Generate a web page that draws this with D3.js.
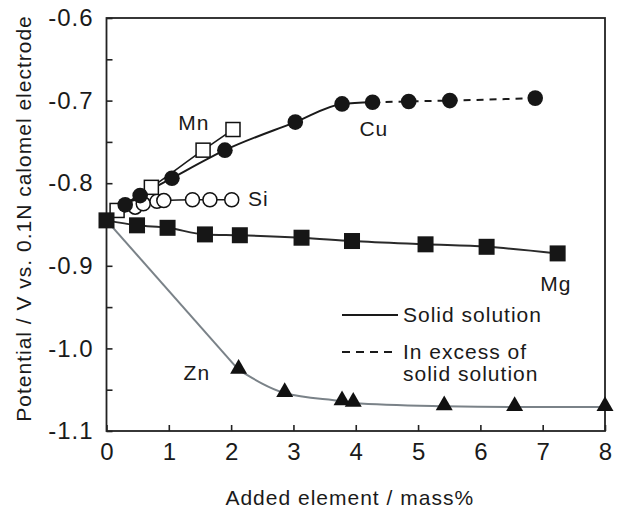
<!DOCTYPE html>
<html>
<head>
<meta charset="utf-8">
<script src="https://cdn.jsdelivr.net/npm/d3@7"></script>
<style>
  html, body { margin: 0; padding: 0; background: #fff; }
  svg text { font-family: "Liberation Sans", Arial, Helvetica, sans-serif; fill: #1a1a1a; letter-spacing: 1px; }
</style>
</head>
<body>
<svg id="chart" width="620" height="510"></svg>
<script>
// Potential of aluminium binary alloys vs. amount of added element
const xTicks = [0, 1, 2, 3, 4, 5, 6, 7, 8];
const yTicks = [-1.1, -1.05, -1.0, -0.95, -0.9, -0.85, -0.8, -0.75, -0.7, -0.65, -0.6];
const yTickLabels = ["-1.1", "", "-1.0", "", "-0.9", "", "-0.8", "", "-0.7", "", "-0.6"];

// Cu: solid-solution range, then beyond the solubility limit
const cuSolidX = [0, 0.30, 0.54, 1.05, 1.90, 3.03, 3.78, 4.27];
const cuSolidY = [-0.845, -0.826, -0.815, -0.794, -0.760, -0.726, -0.704, -0.702];
const cuExcessX = [4.27, 4.85, 5.51, 6.88];
const cuExcessY = [-0.702, -0.701, -0.700, -0.697];

const mnX = [0, 0.17, 0.72, 1.55, 2.03];
const mnY = [-0.845, -0.833, -0.805, -0.760, -0.735];

const siX = [0, 0.46, 0.59, 0.81, 0.92, 1.38, 1.66, 2.01];
const siY = [-0.845, -0.829, -0.825, -0.822, -0.821, -0.820, -0.820, -0.820];

const mgX = [0, 0.49, 0.98, 1.58, 2.14, 3.13, 3.94, 5.12, 6.10, 7.24];
const mgY = [-0.845, -0.851, -0.854, -0.862, -0.863, -0.866, -0.870, -0.874, -0.877, -0.885];

const znX = [0, 2.12, 2.86, 3.78, 3.96, 5.42, 6.55, 8.0];
const znY = [-0.845, -1.026, -1.054, -1.064, -1.066, -1.070, -1.071, -1.071];

// Element name labels, in data coordinates
const labelNames = ["Mn", "Cu", "Si", "Mg", "Zn"];
const labelX = [1.40, 4.29, 2.27, 7.21, 1.45];
const labelY = [-0.726, -0.734, -0.819, -0.921, -1.029];
const labelAnchor = ["middle", "middle", "start", "middle", "middle"];

const legendItems = [["Solid solution"], ["In excess of", "solid solution"]];

const svg = d3.select("#chart");
const W = 620, H = 510;
const m = { left: 106.5, right: 15, top: 18, bottom: 79 };
const fs = 21;

const x = d3.scaleLinear().domain([0, 8]).range([m.left, W - m.right]);
const y = d3.scaleLinear().domain([-1.1, -0.6]).range([H - m.bottom, m.top]);

const axisColor = "#222";

// Frame
svg.append("rect")
  .attr("x", x(0)).attr("y", y(-0.6))
  .attr("width", x(8) - x(0)).attr("height", y(-1.1) - y(-0.6))
  .attr("fill", "none").attr("stroke", axisColor).attr("stroke-width", 1.8);

// Axes with inward ticks
const xAxis = svg.append("g").attr("transform", `translate(0,${y(-1.1)})`)
  .call(d3.axisBottom(x).tickValues(xTicks).tickSize(-6).tickPadding(12).tickFormat(d3.format("d")));
const yAxis = svg.append("g").attr("transform", `translate(${x(0)},0)`)
  .call(d3.axisLeft(y).tickValues(yTicks).tickSize(-6).tickPadding(13)
    .tickFormat((d, i) => yTickLabels[i]));
[xAxis, yAxis].forEach(g => {
  g.select(".domain").remove();
  g.selectAll(".tick line").attr("stroke", axisColor).attr("stroke-width", 1.6);
  g.selectAll(".tick text").attr("font-size", 24).attr("fill", "#1a1a1a")
    .style("font-family", '"Liberation Sans", Arial, sans-serif');
});
xAxis.selectAll(".tick text").style("letter-spacing", "0px");

// Axis titles
svg.append("text")
  .attr("x", (x(0) + x(8)) / 2 - 6).attr("y", 505)
  .attr("text-anchor", "middle").attr("font-size", fs)
  .text("Added element / mass%");
svg.append("text")
  .attr("transform", `translate(31,${(y(-0.6) + y(-1.1)) / 2 - 6}) rotate(-90)`)
  .attr("text-anchor", "middle").attr("font-size", fs)
  .text("Potential / V vs. 0.1N calomel electrode");

const zip = (xs, ys) => xs.map((v, i) => [v, ys[i]]);
const line = d3.line().x(d => x(d[0])).y(d => y(d[1])).curve(d3.curveMonotoneX);
const straight = d3.line().x(d => x(d[0])).y(d => y(d[1]));

const lines = svg.append("g").attr("fill", "none");
// Zn falls steeply, then levels off past ~2 mass%
const zn = zip(znX, znY);
lines.append("path").attr("d", straight(zn.slice(0, 2))).attr("stroke", "#7a8288").attr("stroke-width", 2);
lines.append("path").attr("d", line(zn.slice(1))).attr("stroke", "#7a8288").attr("stroke-width", 2);
lines.append("path").attr("d", line(zip(mgX, mgY))).attr("stroke", "#2a2a2a").attr("stroke-width", 2);
lines.append("path").attr("d", line(zip(siX, siY))).attr("stroke", "#1a1a1a").attr("stroke-width", 1.6);
lines.append("path").attr("d", line(zip(mnX, mnY))).attr("stroke", "#1a1a1a").attr("stroke-width", 1.6);
lines.append("path").attr("d", line(zip(cuSolidX, cuSolidY))).attr("stroke", "#1a1a1a").attr("stroke-width", 2);
lines.append("path").attr("d", line(zip(cuExcessX, cuExcessY))).attr("stroke", "#1a1a1a")
  .attr("stroke-width", 2).attr("stroke-dasharray", "7,6");

const marks = svg.append("g");
// Zn: filled triangles
const tri = d3.symbol().type(d3.symbolTriangle).size(125);
marks.selectAll(".zn").data(zn.slice(1)).join("path")
  .attr("d", tri).attr("transform", d => `translate(${x(d[0])},${y(d[1]) - 1})`)
  .attr("fill", "#111");
// Si: open circles
marks.selectAll(".si").data(zip(siX, siY).slice(1)).join("circle")
  .attr("cx", d => x(d[0])).attr("cy", d => y(d[1])).attr("r", 7)
  .attr("fill", "#fff").attr("stroke", "#111").attr("stroke-width", 1.5);
// Mn: open squares
marks.selectAll(".mn").data(zip(mnX, mnY).slice(1)).join("rect")
  .attr("x", d => x(d[0]) - 7).attr("y", d => y(d[1]) - 7)
  .attr("width", 14).attr("height", 14)
  .attr("fill", "#fff").attr("stroke", "#111").attr("stroke-width", 1.5);
// Cu: filled circles
marks.selectAll(".cu").data(zip(cuSolidX, cuSolidY).slice(1).concat(zip(cuExcessX, cuExcessY).slice(1))).join("circle")
  .attr("cx", d => x(d[0])).attr("cy", d => y(d[1])).attr("r", 7.8)
  .attr("fill", "#161616");
// Mg: filled squares (the first also marks pure Al)
marks.selectAll(".mg").data(zip(mgX, mgY)).join("rect")
  .attr("x", d => x(d[0]) - 8).attr("y", d => y(d[1]) - 8)
  .attr("width", 16).attr("height", 16)
  .attr("fill", "#161616");

// Element labels
svg.append("g").selectAll("text").data(labelNames).join("text")
  .attr("x", (d, i) => x(labelX[i])).attr("y", (d, i) => y(labelY[i]))
  .attr("text-anchor", (d, i) => labelAnchor[i])
  .attr("dominant-baseline", "central")
  .attr("font-size", fs).text(d => d);

// Legend
const lg = svg.append("g");
lg.append("line").attr("x1", 342).attr("x2", 398).attr("y1", 315).attr("y2", 315)
  .attr("stroke", "#1a1a1a").attr("stroke-width", 1.8);
lg.append("line").attr("x1", 342).attr("x2", 398).attr("y1", 352).attr("y2", 352)
  .attr("stroke", "#1a1a1a").attr("stroke-width", 1.8).attr("stroke-dasharray", "8,6");
lg.append("text").attr("x", 403).attr("y", 322).attr("font-size", fs).text(legendItems[0][0]);
lg.append("text").attr("x", 403).attr("y", 359).attr("font-size", fs).text(legendItems[1][0]);
lg.append("text").attr("x", 403).attr("y", 381).attr("font-size", fs).text(legendItems[1][1]);
</script>
</body>
</html>
